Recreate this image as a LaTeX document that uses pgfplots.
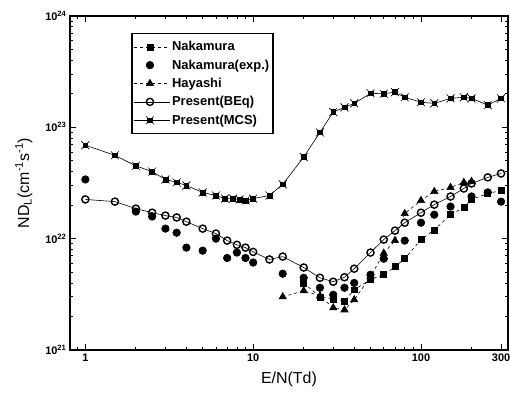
\documentclass[border=0pt]{standalone}
\usepackage{fontspec}
\setmainfont{Liberation Sans}
\usepackage{pgfplots}
\pgfplotsset{compat=1.18}
\pgfdeclareplotmark{mcs}{%
  \pgfpathrectangle{\pgfqpoint{-0.6\pgfplotmarksize}{-0.6\pgfplotmarksize}}{\pgfqpoint{1.2\pgfplotmarksize}{1.2\pgfplotmarksize}}%
  \pgfusepathqfillstroke
  \pgfpathmoveto{\pgfqpoint{-\pgfplotmarksize}{-\pgfplotmarksize}}%
  \pgfpathlineto{\pgfqpoint{\pgfplotmarksize}{\pgfplotmarksize}}%
  \pgfpathmoveto{\pgfqpoint{-\pgfplotmarksize}{\pgfplotmarksize}}%
  \pgfpathlineto{\pgfqpoint{\pgfplotmarksize}{-\pgfplotmarksize}}%
  \pgfusepathqstroke
}
\begin{document}
\begin{tikzpicture}
\begin{axis}[
  scale only axis, width=438bp, height=334bp,
  xmode=log, ymode=log,
  xmin=0.81, xmax=330, ymin=1e21, ymax=1e24,
  xtick={1,10,100,300}, xticklabels={1,10,100,300},
  minor xtick={0.9,2,3,4,5,6,7,8,9,20,30,40,50,60,70,80,90,200},
  ytick={1e21,1e22,1e23,1e24},
  yticklabels={10\textsuperscript{21},10\textsuperscript{22},10\textsuperscript{23},10\textsuperscript{24}},
  minor ytick={2e21,3e21,4e21,5e21,6e21,7e21,8e21,9e21,2e22,3e22,4e22,5e22,6e22,7e22,8e22,9e22,2e23,3e23,4e23,5e23,6e23,7e23,8e23,9e23},
  tick align=inside, major tick length=6bp, minor tick length=3bp,
  axis line style={line width=1.4pt},
  every tick/.style={black, line width=0.8pt},
  tick label style={font=\bfseries\fontsize{11}{13}\selectfont},
  xlabel={E/N(Td)}, ylabel={ND\textsubscript{L}(cm\textsuperscript{-1}s\textsuperscript{-1})},
  xlabel style={font=\fontsize{16}{18}\selectfont},
  ylabel style={font=\fontsize{16}{18}\selectfont},
  xlabel shift=4bp, ylabel shift=6bp,
  legend style={at={(0.14,0.95)}, anchor=north west, draw=black, line width=1.5pt,
    fill=white,
    font=\bfseries\fontsize{13}{15}\selectfont, row sep=3.5pt, inner xsep=2pt, inner ysep=6pt},
  legend cell align=left,
  legend image code/.code={%
    \draw[mark repeat=2, mark phase=2, #1] plot coordinates {(0cm,0cm) (0.55cm,0cm) (1.25cm,0cm)};},
  legend image post style={line width=0.6pt},
  every axis plot/.append style={line width=0.6pt, black},
]
\addplot[dashed, mark=square*, mark size=3pt, mark options={solid}] coordinates {
(20,4.0e21) (25,3.0e21) (30,2.88e21) (35,2.76e21) (40,3.47e21) (50,4.3e21) (60,4.74e21)
(70,5.6e21) (80,6.6e21) (100,9.8e21) (120,1.2e22) (150,1.64e22) (180,1.9e22) (200,2.25e22)
(250,2.54e22) (300,2.71e22)};
\addlegendentry{Nakamura}
\addplot[only marks, mark=*, mark size=3.8pt] coordinates {
(1,3.4e22) (2,1.75e22) (2.5,1.58e22) (3,1.23e22) (3.5,1.13e22) (4,8.3e21) (5,7.8e21) (6,1.0e22)
(7,6.7e21) (8,7.5e21) (9,6.7e21) (10,6.1e21) (15,4.84e21) (20,4.45e21) (25,3.62e21) (30,3.13e21)
(35,3.62e21) (40,4.0e21) (50,4.74e21) (60,6.6e21) (80,9.6e21) (100,1.39e22) (120,1.64e22)
(150,1.94e22) (200,2.39e22) (250,2.6e22) (300,2.15e22)};
\addlegendentry{Nakamura(exp.)}
\addplot[dashed, mark=triangle*, mark size=4.2pt, mark options={solid}] coordinates {
(15,3.0e21) (20,3.4e21) (25,3.06e21) (30,2.39e21) (35,2.29e21) (40,2.82e21) (50,4.55e21)
(60,7.4e21) (70,9.6e21) (80,1.68e22) (100,2.2e22) (120,2.65e22) (150,2.88e22) (180,3.2e22)
(200,3.26e22)};
\addlegendentry{Hayashi}
\addplot[solid, mark=o, mark size=3.6pt, mark options={fill=white, line width=1.4pt}] coordinates {
(1,2.25e22) (1.5,2.15e22) (2,1.86e22) (2.5,1.71e22) (3,1.61e22) (3.5,1.55e22) (4,1.42e22)
(5,1.23e22) (6,1.11e22) (7,9.6e21) (8,8.8e21) (9,8.3e21) (10,7.6e21) (12.5,6.5e21) (15,6.9e21)
(20,5.5e21) (25,4.45e21) (30,4.1e21) (35,4.5e21) (40,5.37e21) (50,7.5e21) (60,9.8e21)
(70,1.18e22) (80,1.39e22) (100,1.71e22) (120,2.02e22) (150,2.39e22) (180,2.82e22)
(200,3.13e22) (250,3.55e22) (300,3.85e22)};
\addlegendentry{Present(BEq)}
\addplot[solid, mark=mcs, mark size=4pt] coordinates {
(1,6.9e22) (1.5,5.6e22) (2,4.5e22) (2.5,4.0e22) (3,3.4e22) (3.5,3.2e22) (4,3.0e22) (5,2.6e22)
(6,2.44e22) (6.8,2.29e22) (7.6,2.29e22) (8.3,2.25e22) (9,2.2e22) (10,2.29e22) (12.5,2.44e22)
(15,3.07e22) (20,5.4e22) (25,9.0e22) (30,1.37e23) (35,1.51e23) (40,1.64e23) (50,2.02e23)
(60,2.0e23) (70,2.07e23) (80,1.86e23) (100,1.68e23) (120,1.64e23) (150,1.82e23) (180,1.86e23)
(200,1.82e23) (250,1.58e23) (300,1.82e23)};
\addlegendentry{Present(MCS)}
\end{axis}
\pgfresetboundingbox
\path ([xshift=-70bp,yshift=-50bp]current axis.south west) rectangle ([xshift=2bp,yshift=16bp]current axis.north east);
\end{tikzpicture}
\end{document}
